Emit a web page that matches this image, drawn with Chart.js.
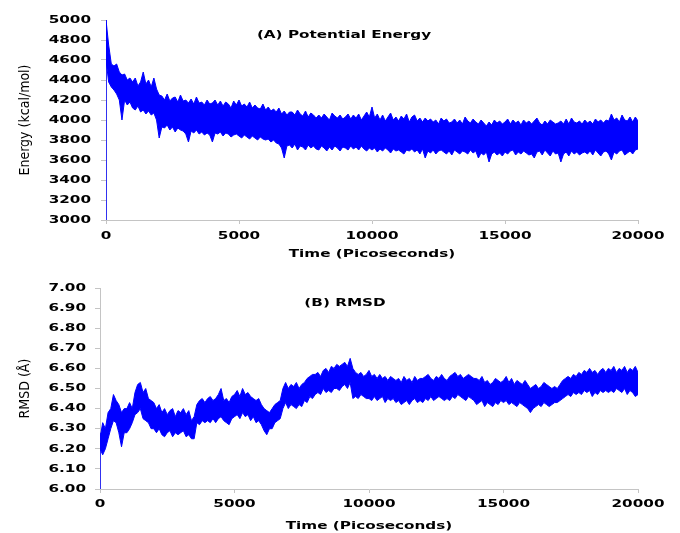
<!DOCTYPE html>
<html lang="en">
  <head>
    <meta charset="utf-8" />
    <script src="https://cdn.jsdelivr.net/npm/chart.js"></script>
    <style>
      body { margin: 0; background: #fff; }
      #wrap { position: relative; width: 680px; height: 533px; background: #fff; }
      canvas { position: absolute; left: 0; }
    </style>
  </head>
  <body>
    <div id="wrap">
      <canvas id="energyChart" width="680" height="266" style="top:0"></canvas>
      <canvas id="rmsdChart" width="680" height="267" style="top:266px"></canvas>
    </div>
    <script>
      // trace read as max / min per 100 ps window, 0 .. 20000 ps
      const timeStep = 100;
      const xTicks = [0, 5000, 10000, 15000, 20000];

      // potential energy, kcal/mol
      const energyStart = [3000, 5000]; // first frames at t = 0
      const energyHigh = [
        5000, 4750, 4560, 4540, 4560, 4480, 4450, 4460, 4400, 4420,
        4380, 4420, 4340, 4380, 4480, 4360, 4400, 4330, 4420, 4310,
        4250, 4240, 4200, 4260, 4190, 4220, 4230, 4180, 4250, 4190,
        4200, 4170, 4210, 4160, 4230, 4170, 4180, 4150, 4200, 4160,
        4170, 4200, 4150, 4190, 4140, 4180, 4160, 4120, 4190, 4150,
        4200, 4140, 4160, 4130, 4180, 4120, 4150, 4120, 4110, 4160,
        4100, 4130, 4090, 4110, 4080, 4120, 4060, 4090, 4050, 4080,
        4080, 4050, 4100, 4060, 4040, 4090, 4030, 4070, 4050, 4020,
        4050, 4020, 4060, 4030, 4000, 4070, 4040, 4020, 4050, 4010,
        4030, 4060, 4010, 4050, 4020, 4060, 4000, 4040, 4080, 4030,
        4130, 4020, 4060, 4000, 4050, 3990, 4030, 4070, 4000, 4030,
        3990, 4040, 4010, 4060, 3980, 4030, 4050, 3990, 4020, 3980,
        4020, 3990, 4010, 3980, 4000, 3960, 4020, 3990, 4010, 3970,
        3980, 4010, 3970, 4000, 3960, 4030, 3990, 3970, 4010, 3980,
        3960, 4000, 3970, 3940, 3980, 3950, 4000, 3970, 3990, 3960,
        3980, 4010, 3960, 4000, 3970, 3990, 3950, 4000, 3970, 3990,
        3960, 3990, 4020, 3970, 3950, 3990, 3960, 4000, 3980, 3960,
        3970, 3990, 3960, 4010, 3960, 4020, 3980, 3970, 3990, 3960,
        4000, 3970, 3990, 3960, 4010, 3980, 4000, 3970, 4000, 3990,
        4060, 4000, 4020, 3980, 4050, 4000, 3990, 4030, 3980, 4030,
        3990
      ];
      const energyLow = [
        4600, 4380, 4330, 4300, 4260, 4200, 4000, 4200, 4150, 4180,
        4120, 4100, 4140, 4080, 4100, 4060, 4090, 4050, 4070, 4000,
        3820, 3930, 3920, 3950, 3900, 3930, 3880, 3920, 3900, 3890,
        3860, 3780, 3890, 3870, 3900, 3860, 3880, 3850, 3870, 3850,
        3780, 3870, 3860, 3880, 3840, 3870, 3860, 3830, 3850, 3860,
        3840, 3820, 3850, 3830, 3810, 3840, 3820, 3800, 3830, 3810,
        3800, 3810, 3780, 3800, 3770, 3760, 3720, 3620, 3740, 3750,
        3720, 3760, 3700, 3740, 3730, 3700, 3750, 3720, 3740, 3710,
        3700, 3740, 3720, 3690, 3730, 3700, 3740, 3720, 3690, 3730,
        3720, 3700, 3740, 3710, 3730, 3700, 3740, 3710, 3690, 3720,
        3700, 3720, 3680, 3710, 3690, 3720, 3700, 3670, 3710, 3690,
        3700, 3680, 3660, 3700, 3690, 3710, 3680, 3700, 3660, 3710,
        3620, 3690, 3670, 3700, 3660, 3690, 3700, 3680, 3660, 3690,
        3650, 3700, 3680, 3660, 3690, 3680, 3660, 3700, 3670, 3690,
        3620, 3670, 3650, 3680, 3580, 3660, 3680, 3650, 3670, 3640,
        3680, 3660, 3690, 3700, 3650, 3680, 3660, 3690, 3670, 3650,
        3660, 3620, 3680, 3690, 3650, 3700, 3670, 3640, 3690, 3660,
        3670, 3580, 3660, 3680, 3640, 3690, 3660, 3680, 3650, 3670,
        3680, 3660, 3690, 3650, 3700, 3670, 3640, 3680, 3690, 3660,
        3600, 3680, 3660, 3690, 3700, 3650, 3670, 3690, 3660, 3700,
        3710
      ];

      // RMSD, angstrom
      const rmsdStart = [6.00, 6.28];
      const rmsdHigh = [
        6.25, 6.33, 6.30, 6.38, 6.40, 6.47, 6.44, 6.42, 6.38, 6.40,
        6.40, 6.43, 6.40, 6.48, 6.52, 6.53, 6.48, 6.50, 6.45, 6.44,
        6.43, 6.40, 6.42, 6.38, 6.40, 6.37, 6.39, 6.40, 6.36, 6.39,
        6.38, 6.40, 6.37, 6.39, 6.34, 6.36, 6.42, 6.44, 6.45, 6.43,
        6.45, 6.46, 6.44, 6.45, 6.47, 6.50, 6.44, 6.45, 6.43, 6.46,
        6.47, 6.49, 6.46, 6.50, 6.47, 6.48, 6.46, 6.45, 6.44, 6.45,
        6.42, 6.40, 6.39, 6.38, 6.40, 6.42, 6.43, 6.44, 6.50, 6.53,
        6.50, 6.52, 6.51, 6.53, 6.50, 6.52, 6.53, 6.55, 6.56, 6.57,
        6.57, 6.58, 6.56, 6.59, 6.60, 6.58, 6.61, 6.60, 6.62, 6.61,
        6.62, 6.63, 6.61, 6.65, 6.60, 6.58, 6.57, 6.58, 6.56, 6.57,
        6.59, 6.56, 6.57, 6.55, 6.57, 6.55, 6.56, 6.54, 6.56, 6.55,
        6.54, 6.55, 6.53, 6.56, 6.54, 6.55, 6.53, 6.56, 6.54, 6.55,
        6.55, 6.56, 6.57, 6.55, 6.54, 6.56, 6.55, 6.57, 6.55, 6.54,
        6.56, 6.57, 6.58, 6.56, 6.57, 6.55, 6.56, 6.57, 6.56, 6.55,
        6.55, 6.54, 6.56, 6.53, 6.54, 6.52, 6.53, 6.55, 6.54, 6.53,
        6.54, 6.56, 6.53, 6.55, 6.52, 6.54, 6.53, 6.52, 6.54, 6.52,
        6.50, 6.51, 6.52, 6.50, 6.51, 6.53, 6.52, 6.51, 6.50, 6.51,
        6.50, 6.52, 6.54, 6.55, 6.56, 6.55, 6.57, 6.56, 6.58, 6.57,
        6.59, 6.58, 6.60, 6.58, 6.59, 6.57, 6.59, 6.60, 6.58, 6.60,
        6.59, 6.61, 6.58, 6.60, 6.59, 6.61, 6.58, 6.60, 6.59, 6.61,
        6.58
      ];
      const rmsdLow = [
        6.20, 6.17, 6.20, 6.25, 6.30, 6.34, 6.33, 6.28, 6.21, 6.28,
        6.28, 6.30, 6.33, 6.37, 6.38, 6.40, 6.35, 6.34, 6.33, 6.30,
        6.30, 6.28, 6.30, 6.27, 6.26, 6.28, 6.29, 6.26, 6.28, 6.27,
        6.28, 6.29, 6.26, 6.27, 6.25, 6.25, 6.33, 6.32, 6.34, 6.33,
        6.34, 6.33, 6.35, 6.33, 6.35, 6.36, 6.34, 6.33, 6.32, 6.35,
        6.36, 6.37, 6.35, 6.38, 6.36, 6.37, 6.34, 6.36, 6.33, 6.34,
        6.32, 6.29, 6.27, 6.30, 6.30, 6.33, 6.34, 6.35, 6.40, 6.43,
        6.40, 6.42, 6.41, 6.40, 6.42, 6.41, 6.44, 6.43, 6.46, 6.45,
        6.47, 6.48, 6.47, 6.50, 6.48, 6.49, 6.48, 6.50, 6.50, 6.49,
        6.51, 6.52, 6.50, 6.53, 6.45, 6.46, 6.45, 6.47, 6.46, 6.45,
        6.45, 6.44, 6.46, 6.44, 6.45, 6.46, 6.43, 6.45, 6.44, 6.45,
        6.43, 6.44, 6.42, 6.43, 6.44, 6.42, 6.44, 6.45, 6.43, 6.44,
        6.43, 6.45, 6.44, 6.46, 6.44, 6.45, 6.46, 6.45, 6.44, 6.45,
        6.44, 6.46, 6.45, 6.47, 6.46, 6.45, 6.44, 6.46, 6.45, 6.44,
        6.42, 6.43, 6.44, 6.41, 6.43, 6.42, 6.41, 6.43, 6.42, 6.44,
        6.43, 6.44, 6.42, 6.43, 6.42, 6.41, 6.43, 6.42, 6.41, 6.40,
        6.38, 6.40, 6.41, 6.42, 6.41, 6.43, 6.42, 6.41, 6.42, 6.43,
        6.43, 6.44, 6.45, 6.46, 6.47, 6.46, 6.48, 6.47, 6.48, 6.47,
        6.49, 6.48, 6.49, 6.46, 6.48, 6.47, 6.49, 6.48, 6.49, 6.48,
        6.49, 6.48, 6.50, 6.49, 6.48, 6.50, 6.47, 6.49, 6.48, 6.46,
        6.47
      ];

      const lineColor = "rgb(0, 0, 255)";
      const axisColor = "#c4c4c4";

      // bold labels in the picture are stretched sideways, so draw them scaled
      function wideText(ctx, text, x, y, align) {
        ctx.save();
        ctx.translate(x, y);
        ctx.scale(1.45, 1);
        ctx.font = 'bold 10.5px "DejaVu Sans", sans-serif';
        ctx.textAlign = align;
        ctx.textBaseline = "middle";
        ctx.fillStyle = "#000";
        ctx.fillText(text, 0, 0);
        ctx.restore();
      }

      function labelPlugin(opt) {
        return {
          id: "labels",
          afterDraw(chart) {
            const { ctx, chartArea, scales } = chart;
            scales.x.ticks.forEach((t) => {
              wideText(ctx, String(t.value), scales.x.getPixelForValue(t.value),
                chartArea.bottom + opt.xLabelGap, "center");
            });
            scales.y.ticks.forEach((t) => {
              wideText(ctx, opt.fmtY(t.value), chartArea.left - opt.yLabelGap,
                scales.y.getPixelForValue(t.value), "right");
            });
            wideText(ctx, "Time (Picoseconds)", (chartArea.left + chartArea.right) / 2,
              chartArea.bottom + opt.xTitleGap, "center");
            wideText(ctx, opt.title, opt.titleX, opt.titleY, "center");

            ctx.save();
            ctx.translate(opt.yTitleX, (chartArea.top + chartArea.bottom) / 2);
            ctx.rotate(-Math.PI / 2);
            ctx.font = '14px "Liberation Sans Narrow", "DejaVu Sans Condensed", sans-serif';
            ctx.textAlign = "center";
            ctx.textBaseline = "middle";
            ctx.fillStyle = "#000";
            ctx.fillText(opt.yTitle, 0, 0);
            ctx.restore();
          },
        };
      }

      const toPoints = (arr) => arr.map((v, i) => ({ x: i * timeStep, y: v }));

      function makeChart(id, start, low, high, opt) {
        const line = { borderColor: lineColor, borderWidth: 1, pointRadius: 0, tension: 0 };
        return new Chart(document.getElementById(id), {
          type: "line",
          data: {
            datasets: [
              { ...line, data: toPoints(low), fill: false },
              { ...line, data: toPoints(high), fill: "-1", backgroundColor: lineColor },
              { ...line, borderWidth: 1.5, data: start.map((v) => ({ x: 0, y: v })), fill: false },
            ],
          },
          options: {
            responsive: false,
            animation: false,
            layout: { padding: { left: 0, top: opt.top, right: 42, bottom: 0 } },
            plugins: { legend: { display: false }, tooltip: { enabled: false } },
            scales: {
              x: {
                type: "linear",
                min: 0,
                max: 20000,
                afterBuildTicks: (s) => { s.ticks = xTicks.map((v) => ({ value: v })); },
                afterFit: (s) => { s.height = opt.xHeight; },
                ticks: { display: false },
                grid: { drawOnChartArea: false, tickLength: 4, color: axisColor },
                border: { color: axisColor, width: 1 },
              },
              y: {
                min: opt.yMin,
                max: opt.yMax,
                afterBuildTicks: (s) => { s.ticks = opt.yTicks.map((v) => ({ value: v })); },
                afterFit: (s) => { s.width = opt.left; },
                ticks: { display: false },
                grid: { drawOnChartArea: false, tickLength: 5, color: axisColor },
                border: { color: axisColor, width: 1 },
              },
            },
          },
          plugins: [labelPlugin(opt)],
        });
      }

      const energyTicks = [3000, 3200, 3400, 3600, 3800, 4000, 4200, 4400, 4600, 4800, 5000];
      const rmsdTicks = [6.0, 6.1, 6.2, 6.3, 6.4, 6.5, 6.6, 6.7, 6.8, 6.9, 7.0];

      makeChart("energyChart", energyStart, energyLow, energyHigh, {
        top: 20, left: 106, xHeight: 46,
        yMin: 3000, yMax: 5000, yTicks: energyTicks,
        fmtY: (v) => String(v),
        xLabelGap: 16, xTitleGap: 34, yLabelGap: 15, yTitleX: 25,
        title: "(A) Potential Energy", titleX: 344, titleY: 35,
        yTitle: "Energy (kcal/mol)",
      });

      makeChart("rmsdChart", rmsdStart, rmsdLow, rmsdHigh, {
        top: 22, left: 100, xHeight: 44,
        yMin: 6, yMax: 7, yTicks: rmsdTicks,
        fmtY: (v) => v.toFixed(2),
        xLabelGap: 15, xTitleGap: 37, yLabelGap: 14, yTitleX: 25,
        title: "(B) RMSD", titleX: 345, titleY: 37,
        yTitle: "RMSD (Å)",
      });
    </script>
  </body>
</html>
